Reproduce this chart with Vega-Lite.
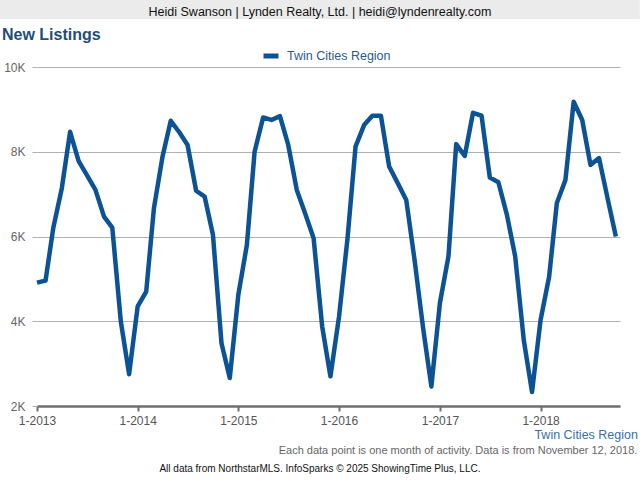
{
  "$schema": "https://vega.github.io/schema/vega-lite/v6.json",
  "width": 583,
  "height": 339,
  "autosize": {"type": "none"},
  "padding": {"left": 37, "top": 67, "right": 20, "bottom": 74},
  "background": "#ffffff",
  "config": {
    "view": {"stroke": null},
    "font": "Liberation Sans"
  },
  "layer": [
    {
      "data": {"values": [{"t": "band"}]},
      "mark": {"type": "rect", "color": "#ebebeb", "clip": false},
      "encoding": {
        "x": {"datum": {"year": 2012, "month": 8, "date": 20, "utc": true}, "type": "temporal"},
        "x2": {"datum": {"year": 2018, "month": 12, "date": 27, "utc": true}},
        "y": {"datum": 11581, "type": "quantitative"},
        "y2": {"datum": 11133}
      }
    },
    {
      "data": {"values": [{"t": "Heidi Swanson | Lynden Realty, Ltd. | heidi@lyndenrealty.com"}]},
      "mark": {"type": "text", "align": "center", "baseline": "middle", "fontSize": 12.5, "color": "#111111", "clip": false},
      "encoding": {
        "x": {"datum": {"year": 2015, "month": 10, "date": 24, "utc": true}, "type": "temporal"},
        "y": {"datum": 11300, "type": "quantitative"},
        "text": {"field": "t"}
      }
    },
    {
      "data": {"values": [{"t": "New Listings"}]},
      "mark": {"type": "text", "align": "left", "baseline": "middle", "fontSize": 16, "fontWeight": "bold", "color": "#1f4e79", "clip": false},
      "encoding": {
        "x": {"datum": {"year": 2012, "month": 8, "date": 27, "utc": true}, "type": "temporal"},
        "y": {"datum": 10755, "type": "quantitative"},
        "text": {"field": "t"}
      }
    },
    {
      "data": {"values": [{"t": "Twin Cities Region"}]},
      "mark": {"type": "text", "align": "right", "baseline": "middle", "fontSize": 12.5, "color": "#3d6fa6", "clip": false},
      "encoding": {
        "x": {"datum": {"year": 2018, "month": 12, "date": 20, "utc": true}, "type": "temporal"},
        "y": {"datum": 1315, "type": "quantitative"},
        "text": {"field": "t"}
      }
    },
    {
      "data": {"values": [{"t": "Each data point is one month of activity. Data is from November 12, 2018."}]},
      "mark": {"type": "text", "align": "right", "baseline": "middle", "fontSize": 11, "color": "#666666", "clip": false},
      "encoding": {
        "x": {"datum": {"year": 2018, "month": 12, "date": 18, "utc": true}, "type": "temporal"},
        "y": {"datum": 938, "type": "quantitative"},
        "text": {"field": "t"}
      }
    },
    {
      "data": {"values": [{"t": "All data from NorthstarMLS. InfoSparks © 2025 ShowingTime Plus, LLC."}]},
      "mark": {"type": "text", "align": "center", "baseline": "middle", "fontSize": 10, "color": "#111111", "letterSpacing": -0.4, "clip": false},
      "encoding": {
        "x": {"datum": {"year": 2015, "month": 10, "date": 24, "utc": true}, "type": "temporal"},
        "y": {"datum": 513, "type": "quantitative"},
        "text": {"field": "t"}
      }
    },
    {
      "data": {
        "values": [
          {"month": "2013-01-01", "listings": 4910, "region": "Twin Cities Region"},
          {"month": "2013-02-01", "listings": 4960, "region": "Twin Cities Region"},
          {"month": "2013-03-01", "listings": 6200, "region": "Twin Cities Region"},
          {"month": "2013-04-01", "listings": 7140, "region": "Twin Cities Region"},
          {"month": "2013-05-01", "listings": 8470, "region": "Twin Cities Region"},
          {"month": "2013-06-01", "listings": 7780, "region": "Twin Cities Region"},
          {"month": "2013-07-01", "listings": 7450, "region": "Twin Cities Region"},
          {"month": "2013-08-01", "listings": 7100, "region": "Twin Cities Region"},
          {"month": "2013-09-01", "listings": 6470, "region": "Twin Cities Region"},
          {"month": "2013-10-01", "listings": 6210, "region": "Twin Cities Region"},
          {"month": "2013-11-01", "listings": 3990, "region": "Twin Cities Region"},
          {"month": "2013-12-01", "listings": 2750, "region": "Twin Cities Region"},
          {"month": "2014-01-01", "listings": 4350, "region": "Twin Cities Region"},
          {"month": "2014-02-01", "listings": 4700, "region": "Twin Cities Region"},
          {"month": "2014-03-01", "listings": 6670, "region": "Twin Cities Region"},
          {"month": "2014-04-01", "listings": 7880, "region": "Twin Cities Region"},
          {"month": "2014-05-01", "listings": 8730, "region": "Twin Cities Region"},
          {"month": "2014-06-01", "listings": 8460, "region": "Twin Cities Region"},
          {"month": "2014-07-01", "listings": 8160, "region": "Twin Cities Region"},
          {"month": "2014-08-01", "listings": 7080, "region": "Twin Cities Region"},
          {"month": "2014-09-01", "listings": 6940, "region": "Twin Cities Region"},
          {"month": "2014-10-01", "listings": 6040, "region": "Twin Cities Region"},
          {"month": "2014-11-01", "listings": 3480, "region": "Twin Cities Region"},
          {"month": "2014-12-01", "listings": 2660, "region": "Twin Cities Region"},
          {"month": "2015-01-01", "listings": 4620, "region": "Twin Cities Region"},
          {"month": "2015-02-01", "listings": 5800, "region": "Twin Cities Region"},
          {"month": "2015-03-01", "listings": 8000, "region": "Twin Cities Region"},
          {"month": "2015-04-01", "listings": 8810, "region": "Twin Cities Region"},
          {"month": "2015-05-01", "listings": 8750, "region": "Twin Cities Region"},
          {"month": "2015-06-01", "listings": 8840, "region": "Twin Cities Region"},
          {"month": "2015-07-01", "listings": 8160, "region": "Twin Cities Region"},
          {"month": "2015-08-01", "listings": 7100, "region": "Twin Cities Region"},
          {"month": "2015-09-01", "listings": 6530, "region": "Twin Cities Region"},
          {"month": "2015-10-01", "listings": 5960, "region": "Twin Cities Region"},
          {"month": "2015-11-01", "listings": 3880, "region": "Twin Cities Region"},
          {"month": "2015-12-01", "listings": 2700, "region": "Twin Cities Region"},
          {"month": "2016-01-01", "listings": 4100, "region": "Twin Cities Region"},
          {"month": "2016-02-01", "listings": 5960, "region": "Twin Cities Region"},
          {"month": "2016-03-01", "listings": 8120, "region": "Twin Cities Region"},
          {"month": "2016-04-01", "listings": 8630, "region": "Twin Cities Region"},
          {"month": "2016-05-01", "listings": 8850, "region": "Twin Cities Region"},
          {"month": "2016-06-01", "listings": 8850, "region": "Twin Cities Region"},
          {"month": "2016-07-01", "listings": 7650, "region": "Twin Cities Region"},
          {"month": "2016-08-01", "listings": 7260, "region": "Twin Cities Region"},
          {"month": "2016-09-01", "listings": 6860, "region": "Twin Cities Region"},
          {"month": "2016-10-01", "listings": 5450, "region": "Twin Cities Region"},
          {"month": "2016-11-01", "listings": 3840, "region": "Twin Cities Region"},
          {"month": "2016-12-01", "listings": 2460, "region": "Twin Cities Region"},
          {"month": "2017-01-01", "listings": 4430, "region": "Twin Cities Region"},
          {"month": "2017-02-01", "listings": 5530, "region": "Twin Cities Region"},
          {"month": "2017-03-01", "listings": 8180, "region": "Twin Cities Region"},
          {"month": "2017-04-01", "listings": 7900, "region": "Twin Cities Region"},
          {"month": "2017-05-01", "listings": 8920, "region": "Twin Cities Region"},
          {"month": "2017-06-01", "listings": 8850, "region": "Twin Cities Region"},
          {"month": "2017-07-01", "listings": 7390, "region": "Twin Cities Region"},
          {"month": "2017-08-01", "listings": 7280, "region": "Twin Cities Region"},
          {"month": "2017-09-01", "listings": 6510, "region": "Twin Cities Region"},
          {"month": "2017-10-01", "listings": 5530, "region": "Twin Cities Region"},
          {"month": "2017-11-01", "listings": 3560, "region": "Twin Cities Region"},
          {"month": "2017-12-01", "listings": 2330, "region": "Twin Cities Region"},
          {"month": "2018-01-01", "listings": 4030, "region": "Twin Cities Region"},
          {"month": "2018-02-01", "listings": 5050, "region": "Twin Cities Region"},
          {"month": "2018-03-01", "listings": 6790, "region": "Twin Cities Region"},
          {"month": "2018-04-01", "listings": 7330, "region": "Twin Cities Region"},
          {"month": "2018-05-01", "listings": 9180, "region": "Twin Cities Region"},
          {"month": "2018-06-01", "listings": 8750, "region": "Twin Cities Region"},
          {"month": "2018-07-01", "listings": 7690, "region": "Twin Cities Region"},
          {"month": "2018-08-01", "listings": 7850, "region": "Twin Cities Region"},
          {"month": "2018-09-01", "listings": 6900, "region": "Twin Cities Region"},
          {"month": "2018-10-01", "listings": 6000, "region": "Twin Cities Region"}
        ]
      },
      "mark": {"type": "line", "strokeWidth": 4.5, "strokeJoin": "round", "strokeCap": "butt", "clip": false},
      "encoding": {
        "x": {
          "field": "month",
          "type": "temporal",
          "scale": {"type": "utc", "domain": [{"year": 2013, "month": 1, "date": 1, "utc": true}, {"year": 2018, "month": 10, "date": 16, "utc": true}], "nice": false},
          "axis": {
            "title": null,
            "labelExpr": "utcFormat(datum.value, '%-m-%Y')",
            "values": [
              {"year": 2013, "month": 1, "date": 1, "utc": true},
              {"year": 2014, "month": 1, "date": 1, "utc": true},
              {"year": 2015, "month": 1, "date": 1, "utc": true},
              {"year": 2016, "month": 1, "date": 1, "utc": true},
              {"year": 2017, "month": 1, "date": 1, "utc": true},
              {"year": 2018, "month": 1, "date": 1, "utc": true}
            ],
            "grid": false,
            "domainColor": "#6e6e6e",
            "domainWidth": 2.5,
            "tickColor": "#6e6e6e",
            "tickWidth": 2,
            "tickSize": 5,
            "labelColor": "#555555",
            "labelFontSize": 12,
            "labelPadding": 4,
            "labelFlush": false,
            "labelOverlap": false
          }
        },
        "y": {
          "field": "listings",
          "type": "quantitative",
          "scale": {"domain": [2000, 10000], "nice": false, "zero": false},
          "axis": {
            "title": null,
            "values": [2000, 4000, 6000, 8000, 10000],
            "labelExpr": "(datum.value / 1000) + 'K'",
            "domain": false,
            "grid": true,
            "ticks": true,
            "tickSize": 5,
            "tickColor": "#b0b0b0",
            "gridColor": "#b0b0b0",
            "gridWidth": 1,
            "labelColor": "#666666",
            "labelFontSize": 12,
            "labelPadding": 7
          }
        },
        "color": {
          "field": "region",
          "type": "nominal",
          "scale": {"range": ["#0b5394"]},
          "legend": {
            "title": null,
            "orient": "none",
            "legendX": 224,
            "legendY": -21,
            "symbolType": "stroke",
            "symbolSize": 225,
            "symbolStrokeWidth": 5,
            "labelFontSize": 12.5,
            "labelColor": "#2b5b8a",
            "labelOffset": 6
          }
        }
      }
    }
  ]
}
